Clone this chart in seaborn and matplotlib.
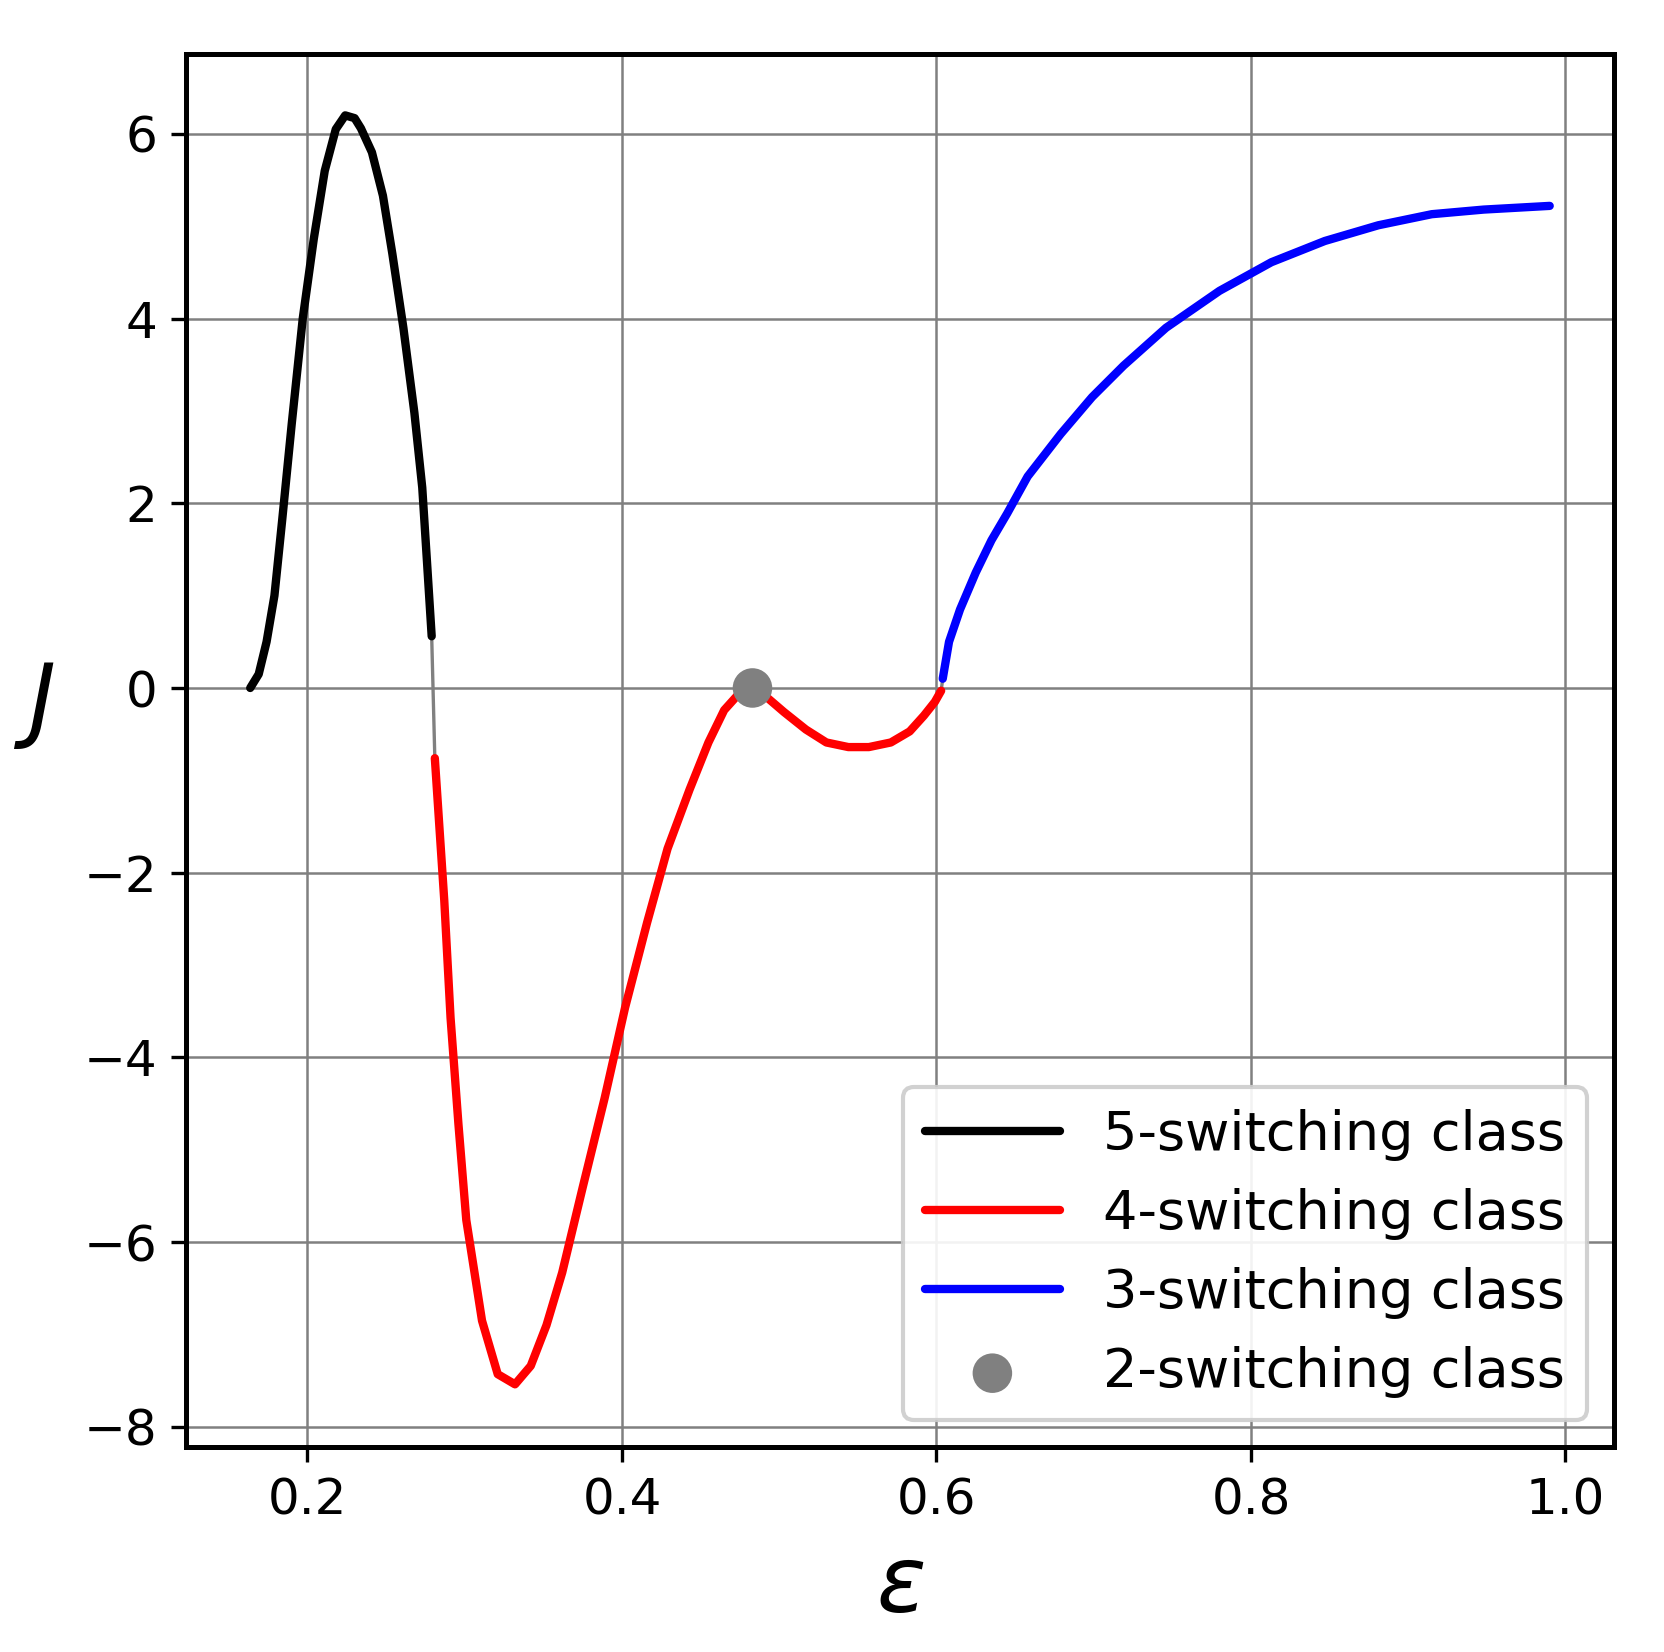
import numpy as np
import pandas as pd
import matplotlib
matplotlib.use("Agg")
import matplotlib.pyplot as plt
import seaborn as sns

# 5-switching class
eps5 = [0.1636, 0.169, 0.174, 0.179, 0.184, 0.190, 0.197, 0.204, 0.211, 0.218, 0.224, 0.230,
        0.234, 0.241, 0.248, 0.254, 0.261, 0.268, 0.273, 0.276, 0.279]
J5 = [0.0, 0.15, 0.5, 1.0, 1.83, 2.86, 4.0, 4.86, 5.6, 6.05, 6.2, 6.17,
      6.06, 5.8, 5.33, 4.7, 3.9, 2.98, 2.17, 1.37, 0.56]
# 4-switching class
eps4 = [0.281, 0.287, 0.291, 0.296, 0.301, 0.311, 0.321, 0.332, 0.342, 0.352, 0.362, 0.375,
        0.389, 0.402, 0.416, 0.429, 0.443, 0.455, 0.465, 0.474, 0.482, 0.490, 0.503, 0.517,
        0.530, 0.544, 0.557, 0.571, 0.583, 0.592, 0.599, 0.603]
J4 = [-0.76, -2.3, -3.57, -4.72, -5.76, -6.85, -7.43, -7.54, -7.34, -6.9, -6.33, -5.41,
      -4.44, -3.46, -2.54, -1.74, -1.1, -0.59, -0.24, -0.07, 0.01, -0.07, -0.26, -0.45,
      -0.59, -0.64, -0.64, -0.59, -0.47, -0.3, -0.15, -0.03]
# 3-switching class
eps3 = [0.604, 0.608, 0.615, 0.625, 0.635, 0.645, 0.658, 0.679, 0.699, 0.719, 0.746, 0.780,
        0.813, 0.847, 0.881, 0.915, 0.948, 0.990]
J3 = [0.1, 0.5, 0.85, 1.25, 1.6, 1.89, 2.29, 2.75, 3.15, 3.49, 3.9, 4.3,
      4.61, 4.84, 5.01, 5.13, 5.18, 5.22]
# 2-switching class
eps2 = [0.483]
J2 = [0.0]

sns.set_style("ticks")
plt.rcParams['font.family'] = ['DejaVu Sans']
fig, ax = plt.subplots(figsize=(5.547, 5.507), dpi=300)

# thin gray connectors between branches
ax.plot([eps5[-1], eps4[0]], [J5[-1], J4[0]], color="gray", lw=0.8)
ax.plot([eps4[-1], eps3[0]], [J4[-1], J3[0]], color="gray", lw=0.8)

for e, j, c, lab in [(eps5, J5, "black", "5-switching class"),
                     (eps4, J4, "red", "4-switching class"),
                     (eps3, J3, "blue", "3-switching class")]:
    df = pd.DataFrame({"eps": e, "J": j})
    sns.lineplot(data=df, x="eps", y="J", sort=False, color=c, lw=2.0, label=lab, ax=ax)
sns.scatterplot(x=eps2, y=J2, color="gray", s=90, edgecolor="none", zorder=5,
                label="2-switching class", ax=ax)

ax.set_xlim(0.123, 1.031)
ax.set_ylim(-8.22, 6.86)
ax.set_xticks([0.2, 0.4, 0.6, 0.8, 1.0])
ax.set_yticks([-8, -6, -4, -2, 0, 2, 4, 6])
ax.grid(True, color="gray", lw=0.6)
ax.tick_params(labelsize=12, colors="black")
ax.set_xlabel(r"$\varepsilon$", fontsize=22, color="black")
ax.set_ylabel(r"$J$", fontsize=22, rotation=0, labelpad=12, color="black")
for s in ax.spines.values():
    s.set_linewidth(1.2)
    s.set_color("black")
leg = ax.legend(loc="lower right", fontsize=13, handlelength=2.5, framealpha=0.9)
for t in leg.get_texts():
    t.set_color("black")

fig.subplots_adjust(left=0.112, right=0.97, top=0.967, bottom=0.124)
fig.savefig("out.png", dpi=300)
